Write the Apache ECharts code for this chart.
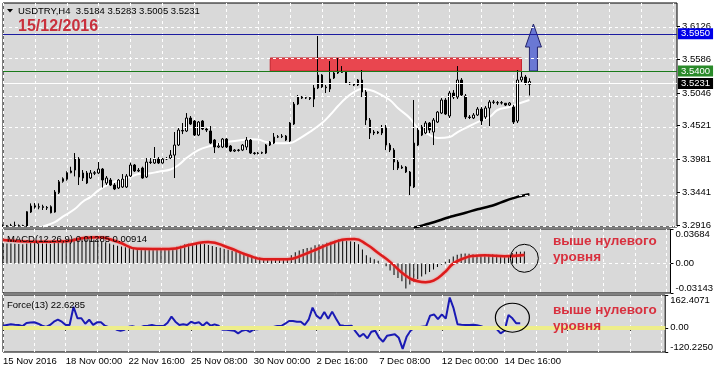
<!DOCTYPE html>
<html><head><meta charset="utf-8">
<script src="https://cdn.jsdelivr.net/npm/echarts@6/dist/echarts.min.js"></script>
<style>html,body{margin:0;padding:0;background:#fff}#c{width:716px;height:373px}</style>
</head><body><div id="c"></div><script>
const FONT = "'Liberation Sans', Arial, sans-serif";
// ---- x axis ----
const tickLabels = ['15 Nov 2016','18 Nov 00:00','22 Nov 16:00','25 Nov 08:00','30 Nov 00:00','2 Dec 16:00','7 Dec 08:00','12 Dec 00:00','14 Dec 16:00'];
const barsPerLabel = 16, barsPerGridLine = 8, slotCount = 170;
// ---- candles (H4 USDTRY) ----
const opens = [3.2905,3.2900,3.2905,3.2910,3.2906,3.2908,3.2895,3.3125,3.3225,3.3205,
3.3212,3.3200,3.3211,3.3125,3.3437,3.3620,3.3653,3.3760,3.3803,3.3980,
3.3674,3.3755,3.3674,3.3750,3.3755,3.3819,3.3593,3.3642,3.3561,3.3513,
3.3529,3.3529,3.3706,3.3884,3.3787,3.3835,3.3690,3.3932,3.3916,3.3980,
3.3916,3.3980,3.3996,3.4044,3.4206,3.4440,3.4432,3.4642,3.4593,3.4367,
3.4593,3.4464,3.4432,3.4287,3.4174,3.4174,3.4303,3.4190,3.4109,3.4125,
3.4125,3.4174,3.4287,3.4077,3.4070,3.4077,3.4077,3.4206,3.4238,3.4335,
3.4340,3.4351,3.4270,3.4545,3.4867,3.4980,3.4964,3.4970,3.5126,3.5126,
3.5335,3.5142,3.5109,3.5287,3.5368,3.5384,3.5384,3.5206,3.5190,3.5174,
3.5255,3.5061,3.4609,3.4400,3.4416,3.4400,3.4480,3.4206,3.4125,3.3932,
3.3835,3.3851,3.3771,3.3529,3.4206,3.4367,3.4400,3.4561,3.4416,3.4577,
3.4722,3.4932,3.4674,3.5045,3.4980,3.5255,3.4997,3.4658,3.4642,3.4690,
3.4787,3.4658,3.4803,3.4900,3.4890,3.4884,3.4880,3.4851,3.4819,3.4593,
3.5255,3.5303,3.5184];
const highs = [3.2925,3.2915,3.2935,3.2970,3.2925,3.2920,3.3140,3.3265,3.3270,3.3265,
3.3243,3.3222,3.3233,3.3480,3.3642,3.3685,3.3782,3.3856,3.4077,3.4012,
3.3803,3.3787,3.3803,3.3787,3.3932,3.3835,3.3706,3.3674,3.3593,3.3658,
3.3738,3.3738,3.3921,3.3900,3.3835,3.3857,3.3996,3.3996,3.4174,3.4012,
3.3996,3.4012,3.4125,3.4416,3.4480,3.4561,3.4722,3.4674,3.4609,3.4593,
3.4609,3.4480,3.4513,3.4303,3.4238,3.4319,3.4319,3.4206,3.4141,3.4141,
3.4222,3.4335,3.4303,3.4093,3.4093,3.4100,3.4222,3.4270,3.4400,3.4367,
3.4383,3.4367,3.4577,3.4900,3.5013,3.4997,3.5000,3.4990,3.5174,3.5964,
3.5350,3.5174,3.5561,3.5384,3.5609,3.5480,3.5400,3.5222,3.5206,3.5271,
3.5416,3.5093,3.4642,3.4448,3.4432,3.4529,3.4529,3.4238,3.4157,3.3964,
3.3880,3.3867,3.3787,3.4932,3.4480,3.4529,3.4593,3.4577,3.4642,3.4754,
3.4964,3.4964,3.5077,3.5093,3.5480,3.5287,3.5029,3.4690,3.4722,3.4819,
3.4819,3.4835,3.4932,3.4932,3.4916,3.4916,3.4884,3.4900,3.4851,3.5416,
3.5384,3.5335,3.5283];
const lows = [3.2890,3.2892,3.2895,3.2895,3.2895,3.2893,3.2885,3.3110,3.3180,3.3170,
3.3158,3.3158,3.3104,3.3114,3.3416,3.3598,3.3631,3.3750,3.3700,3.3561,
3.3626,3.3577,3.3658,3.3722,3.3740,3.3520,3.3561,3.3545,3.3480,3.3497,
3.3513,3.3513,3.3690,3.3771,3.3771,3.3663,3.3674,3.3900,3.3900,3.3900,
3.3905,3.3964,3.3980,3.3674,3.4190,3.4383,3.4416,3.4529,3.4351,3.4351,
3.4448,3.4416,3.4222,3.4077,3.4157,3.4157,3.4157,3.4093,3.4093,3.4100,
3.4109,3.4125,3.4061,3.4050,3.4055,3.4061,3.4061,3.4190,3.4222,3.4319,
3.4319,3.4270,3.4254,3.4529,3.4851,3.4948,3.4948,3.4932,3.4819,3.5109,
3.5126,3.5045,3.5061,3.5271,3.5352,3.5368,3.5190,3.5174,3.5158,3.5158,
3.4980,3.4529,3.4303,3.4367,3.4383,3.4367,3.4125,3.4093,3.3803,3.3803,
3.3820,3.3755,3.3400,3.3513,3.4190,3.4351,3.4383,3.4400,3.4206,3.4561,
3.4706,3.4690,3.4642,3.4948,3.4948,3.4980,3.4625,3.4625,3.4625,3.4674,
3.4529,3.4625,3.4513,3.4867,3.4851,3.4860,3.4835,3.4835,3.4545,3.4561,
3.5222,3.5174,3.5005];
const closes = [3.2900,3.2903,3.2910,3.2906,3.2908,3.2905,3.3131,3.3222,3.3205,3.3212,
3.3200,3.3190,3.3114,3.3448,3.3614,3.3663,3.3760,3.3787,3.3996,3.3690,
3.3755,3.3593,3.3755,3.3760,3.3819,3.3642,3.3674,3.3561,3.3497,3.3642,
3.3658,3.3706,3.3884,3.3787,3.3800,3.3674,3.3932,3.3925,3.3980,3.3916,
3.3980,3.3990,3.4044,3.4206,3.4448,3.4432,3.4642,3.4545,3.4367,3.4577,
3.4464,3.4448,3.4238,3.4174,3.4190,3.4303,3.4174,3.4109,3.4125,3.4120,
3.4206,3.4287,3.4077,3.4070,3.4077,3.4085,3.4206,3.4254,3.4335,3.4340,
3.4351,3.4287,3.4561,3.4867,3.4980,3.4964,3.4970,3.4955,3.4948,3.5335,
3.5142,3.5130,3.5271,3.5368,3.5384,3.5380,3.5206,3.5190,3.5174,3.5255,
3.5061,3.4609,3.4400,3.4416,3.4400,3.4480,3.4206,3.4125,3.3932,3.3835,
3.3851,3.3771,3.3545,3.4238,3.4448,3.4496,3.4561,3.4448,3.4609,3.4738,
3.4932,3.4706,3.5045,3.4980,3.5255,3.5013,3.4658,3.4650,3.4690,3.4787,
3.4593,3.4803,3.4900,3.4895,3.4884,3.4890,3.4851,3.4884,3.4577,3.5255,
3.5303,3.5206,3.5231];
// moving averages as [bar, price]
const maFast = [[10,3.2892],[13,3.2964],[15,3.3050],[18,3.3174],[20,3.3292],[22,3.3370],[24,3.3480],[27,3.3588],[29,3.3642],[32,3.3695],[34,3.3738],[37,3.3750],[39,3.3776],[42,3.3811],[44,3.3884],[46,3.3996],[49,3.4125],[52,3.4190],[56,3.4254],[59,3.4279],[62,3.4298],[64,3.4295],[66,3.4254],[69,3.4233],[72,3.4238],[74,3.4298],[77,3.4421],[80,3.4561],[82,3.4690],[84,3.4835],[86,3.4964],[88,3.5061],[90,3.5109],[92,3.5093],[94,3.5045],[97,3.4932],[99,3.4803],[102,3.4642],[104,3.4480],[107,3.4367],[109,3.4319],[112,3.4335],[114,3.4416],[117,3.4513],[119,3.4577],[122,3.4658],[124,3.4771],[127,3.4819],[129,3.4867],[132,3.4932]];
const maSlow = [[103,3.2870],[104,3.2888],[108,3.2960],[112,3.3045],[116,3.3114],[119,3.3170],[123,3.3235],[126,3.3308],[129,3.3370],[132,3.3411]];
const priceTicks = [3.2916,3.3441,3.3981,3.4521,3.5046,3.5586,3.6126];
const priceMin = 3.2884, priceMax = 3.6497;
const levelResistance = 3.5950, levelSupport = 3.5400, lastPrice = 3.5231;
const zoneBars = [67, 130], zoneLow = 3.5400, zoneHigh = 3.5610;
const arrowData = [[133, 3.5400, 3.5787, 3.6158]]; // bar, base, head base, tip
// ---- MACD ----
const macdMain = [0.0218,0.0215,0.0214,0.0212,0.0209,0.0207,0.0214,0.0219,0.0218,0.0217,
0.0215,0.0214,0.0208,0.0222,0.0236,0.0245,0.0253,0.0257,0.0269,0.0265,
0.0265,0.0261,0.0259,0.0257,0.0253,0.0239,0.0226,0.0214,0.0200,0.0190,
0.0183,0.0175,0.0173,0.0167,0.0161,0.0150,0.0151,0.0150,0.0151,0.0148,
0.0147,0.0146,0.0148,0.0161,0.0179,0.0190,0.0206,0.0212,0.0208,0.0211,
0.0211,0.0208,0.0198,0.0187,0.0176,0.0169,0.0159,0.0147,0.0136,0.0125,
0.0117,0.0111,0.0097,0.0084,0.0073,0.0064,0.0059,0.0054,0.0053,0.0050,
0.0047,0.0042,0.0056,0.0089,0.0120,0.0140,0.0155,0.0167,0.0171,0.0194,
0.0202,0.0206,0.0222,0.0233,0.0244,0.0257,0.0251,0.0244,0.0237,0.0230,
0.0206,0.0151,0.0089,0.0065,0.0046,0.0030,0.0003,-0.0028,-0.0075,-0.0122,
-0.0154,-0.0189,-0.0265,-0.0224,-0.0193,-0.0165,-0.0138,-0.0114,-0.0091,-0.0064,
-0.0036,-0.0013,0.0020,0.0045,0.0075,0.0095,0.0105,0.0108,0.0105,0.0100,
0.0095,0.0095,0.0098,0.0100,0.0098,0.0095,0.0092,0.0090,0.0078,0.0110,
0.0125,0.0125,0.01285];
const macdSignal = [[0,0.0251],[8,0.0233],[16,0.0239],[21,0.0276],[24,0.0280],[29,0.0233],[34,0.0159],[42,0.0155],[48,0.0206],[52,0.0230],[57,0.0171],[62,0.0089],[66,0.0047],[72,0.0045],[76,0.0093],[80,0.0163],[84,0.0230],[87,0.0259],[89,0.0261],[92,0.0206],[95,0.0112],[98,0.0018],[102,-0.0130],[105,-0.0189],[107,-0.0200],[109,-0.0183],[112,-0.0087],[114,-0.0001],[117,0.0061],[119,0.0081],[122,0.0089],[127,0.0079],[132,0.00914]];
const macdTicks = [-0.03143, 0, 0.03684];
const macdTickLabels = ['-0.03143', '0.00', '0.03684'];
const macdCircle = [[132, 0.0056]];
// ---- Force ----
const forceValues = [10,14,17,15,14,8,24,26,27,20,
10,4,14,30,40,30,14,14,104,47,
47,20,40,14,27,27,10,3,1,-9.5,
-14.5,-9.5,5,8,3,2,8.7,10,13.6,8.7,
8.7,8.7,25,55,30,13.6,16.9,13.6,30,22,
27,10,27,10,17,10,-9.5,-10,-12.8,-14.5,
-27.5,-15,-9.5,-20.7,-7.9,-7.9,-2,0,2,4,
8.7,8.7,20,33.5,33.5,30,30,13.6,40,100,
60,45,78,45,80,45,12,10,9,10,
-19.7,-44,-30,-52.5,-20,-14.5,-50,-69,-40,-36,
-32,-50,-105,-45,-14.5,0,2,5,8,60,
66,43,66,45,150,96,17,15,14,14,
15,12,8,0,-2,-4,-6,-27.5,-15,63,
47,22,22.6285];
const forceTicks = [-120.2250, 0, 162.4071];
const forceTickLabels = ['-120.2250', '0.00', '162.4071'];
const forceCircle = [[130, 49.8]];
// ---- texts ----
const headerText = 'USDTRY,H4  3.5184 3.5283 3.5005 3.5231';
const dateText = '15/12/2016';
const macdText = 'MACD(12,26,9) 0.01285 0.00914';
const forceText = 'Force(13) 22.6285';
const noteLines = ['выше нулевого', 'уровня'];

const slots = Array.from({length: slotCount}, (_, i) => i);
const candleData = opens.map((o, i) => [o, closes[i], lows[i], highs[i]]);
const PLOT_BG = '#d9d9d9';
const gridDash = {color: '#ffffff', width: 1, type: [3, 3]};

function xAxisFor(idx, bottom) {
  return {
    type: 'category', gridIndex: idx, data: slots, boundaryGap: false,
    axisLine: {show: false},
    axisTick: {show: bottom, interval: (i) => i % barsPerLabel === 0, length: 3, lineStyle: {color: '#000'}},
    axisLabel: {show: bottom, interval: (i) => i % barsPerLabel === 0,
      formatter: (v, i) => tickLabels[i / barsPerLabel] || '', align: 'left', color: '#000', fontSize: 9.5, fontFamily: FONT, margin: 4},
    splitLine: {show: true, interval: (i) => i % barsPerGridLine === 0, lineStyle: gridDash}
  };
}
function yAxisFor(idx, min, max, ticks, fmt, edge) {
  return {
    type: 'value', gridIndex: idx, position: 'right', min: min, max: max, scale: true,
    splitLine: {show: false}, axisLine: {show: false},
    axisTick: {show: true, customValues: ticks, length: 3, lineStyle: {color: '#000'}},
    axisLabel: Object.assign({customValues: ticks, formatter: fmt, color: '#000', fontSize: 9.5, fontFamily: FONT, margin: 5},
      edge ? {verticalAlignMinLabel: 'bottom', verticalAlignMaxLabel: 'top'} : {})
  };
}
const levelLabel = {show: true, position: 'end', distance: 1, fontSize: 9.5, fontFamily: FONT, color: '#fff', padding: [1, 3, 0, 3]};

const option = {
  animation: false,
  backgroundColor: '#ffffff',
  textStyle: {fontFamily: FONT},
  grid: [
    {left: 3, right: 39, top: 3, height: 224, show: true, backgroundColor: PLOT_BG, borderColor: '#000', borderWidth: 1},
    {left: 3, right: 39, top: 229, height: 64, show: true, backgroundColor: PLOT_BG, borderColor: '#000', borderWidth: 1},
    {left: 3, right: 39, top: 295, height: 57, show: true, backgroundColor: PLOT_BG, borderColor: '#000', borderWidth: 1}
  ],
  xAxis: [xAxisFor(0, false), xAxisFor(1, false), xAxisFor(2, true)],
  yAxis: [
    yAxisFor(0, priceMin, priceMax, priceTicks, (v) => v.toFixed(4), false),
    yAxisFor(1, macdTicks[0], macdTicks[2], macdTicks, (v) => macdTickLabels[macdTicks.indexOf(v)] || '', true),
    yAxisFor(2, forceTicks[0], forceTicks[2], forceTicks, (v) => forceTickLabels[forceTicks.indexOf(v)] || '', true)
  ],
  series: [
    {type: 'line', name: 'grid', xAxisIndex: 0, yAxisIndex: 0, data: [], z: 1, silent: true,
     markLine: {silent: true, symbol: ['none', 'none'], label: {show: false}, lineStyle: gridDash,
       data: priceTicks.map(v => ({yAxis: v}))}},
    {type: 'line', name: 'zone', xAxisIndex: 0, yAxisIndex: 0, data: [], z: 1, silent: true,
     markArea: {silent: true, itemStyle: {color: '#e9464f', borderColor: '#c4222c', borderWidth: 1},
       data: [[{xAxis: zoneBars[0], yAxis: zoneLow}, {xAxis: zoneBars[1], yAxis: zoneHigh}]]}},
    {type: 'line', name: 'levels', xAxisIndex: 0, yAxisIndex: 0, data: [], z: 1, silent: true,
     markLine: {silent: true, symbol: ['none', 'none'], label: levelLabel,
       data: [
         {yAxis: lastPrice, lineStyle: {color: '#ffffff', width: 1, type: 'solid'}, label: Object.assign({}, levelLabel, {formatter: lastPrice.toFixed(4), backgroundColor: '#000000'})},
         {yAxis: levelSupport, lineStyle: {color: '#1a7a1a', width: 1, type: 'solid'}, label: Object.assign({}, levelLabel, {formatter: levelSupport.toFixed(4), backgroundColor: '#2a8a2a'})},
         {yAxis: levelResistance, lineStyle: {color: '#1c1ca0', width: 1, type: 'solid'}, label: Object.assign({}, levelLabel, {formatter: levelResistance.toFixed(4), backgroundColor: '#0000e8'})}
       ]}},
    {type: 'line', name: 'MA fast', xAxisIndex: 0, yAxisIndex: 0, data: maFast, smooth: 0.4, showSymbol: false, z: 2,
     lineStyle: {color: '#ffffff', width: 2}},
    {type: 'line', name: 'MA slow', xAxisIndex: 0, yAxisIndex: 0, data: maSlow, smooth: 0.3, showSymbol: false, z: 2,
     lineStyle: {color: '#000000', width: 2.5}},
    {type: 'candlestick', name: 'USDTRY', xAxisIndex: 0, yAxisIndex: 0, data: candleData, barWidth: 2, z: 3,
     itemStyle: {color: '#ffffff', color0: '#000000', borderColor: '#000000', borderColor0: '#000000', borderWidth: 1}},
    {type: 'custom', name: 'arrow', xAxisIndex: 0, yAxisIndex: 0, data: arrowData, z: 4, clip: false, silent: true,
     renderItem: (params, api) => {
       const b = api.coord([api.value(0), api.value(1)]);
       const h = api.coord([api.value(0), api.value(2)]);
       const t = api.coord([api.value(0), api.value(3)]);
       const x = b[0], sw = 4, hw = 8;
       return {type: 'polygon', shape: {points: [[x - sw, b[1]], [x - sw, h[1]], [x - hw, h[1]], [x, t[1]], [x + hw, h[1]], [x + sw, h[1]], [x + sw, b[1]]]},
         style: {fill: '#6a78d4', stroke: '#22226a', lineWidth: 1}};
     }},
    // MACD
    {type: 'line', name: 'macdZero', xAxisIndex: 1, yAxisIndex: 1, data: [], z: 1, silent: true,
     markLine: {silent: true, symbol: ['none', 'none'], label: {show: false}, lineStyle: gridDash, data: [{yAxis: 0}]}},
    {type: 'bar', name: 'MACD', xAxisIndex: 1, yAxisIndex: 1, data: macdMain, barWidth: 1, z: 2,
     itemStyle: {color: '#000000'}},
    {type: 'line', name: 'Signal', xAxisIndex: 1, yAxisIndex: 1, data: macdSignal, smooth: 0.5, showSymbol: false, z: 3,
     lineStyle: {color: '#dc1c1c', width: 2.5, shadowColor: 'rgba(255,110,110,0.9)', shadowBlur: 2}},
    {type: 'custom', name: 'macdCircle', xAxisIndex: 1, yAxisIndex: 1, data: macdCircle, z: 5, clip: false, silent: true,
     renderItem: (params, api) => {
       const c = api.coord([api.value(0), api.value(1)]);
       return {type: 'circle', shape: {cx: c[0], cy: c[1], r: 14}, style: {fill: 'none', stroke: '#000', lineWidth: 1}};
     }},
    // Force
    {type: 'line', name: 'Force', xAxisIndex: 2, yAxisIndex: 2, data: forceValues, showSymbol: false, z: 2,
     lineStyle: {color: '#1a1ab4', width: 2}},
    {type: 'line', name: 'forceZero', xAxisIndex: 2, yAxisIndex: 2, data: [], z: 3, silent: true,
     markLine: {silent: true, symbol: ['none', 'none'], label: {show: false},
       lineStyle: {color: '#eeee8a', width: 4, type: 'solid'}, data: [{yAxis: 0}]}},
    {type: 'custom', name: 'forceCircle', xAxisIndex: 2, yAxisIndex: 2, data: forceCircle, z: 5, clip: false, silent: true,
     renderItem: (params, api) => {
       const c = api.coord([api.value(0), api.value(1)]);
       return {type: 'circle', x: c[0], y: c[1], scaleX: 17 / 14.5, shape: {cx: 0, cy: 0, r: 14.5},
         style: {fill: 'none', stroke: '#000', lineWidth: 1}, strokeNoScale: true};
     }}
  ],
  graphic: [
    {type: 'polygon', shape: {points: [[7, 9], [13, 9], [10, 12.5]]}, style: {fill: '#000'}, z: 10},
    {type: 'text', x: 18, y: 11, z: 10, style: {text: headerText, fill: '#000', font: '9.5px ' + FONT, verticalAlign: 'middle'}},
    {type: 'text', x: 18, y: 27, z: 10, style: {text: dateText, fill: '#c9303c', font: 'bold 16px ' + FONT, verticalAlign: 'middle'}},
    {type: 'text', x: 7, y: 239, z: 10, style: {text: macdText, fill: '#000', font: '9.5px ' + FONT, verticalAlign: 'middle'}},
    {type: 'text', x: 7, y: 305, z: 10, style: {text: forceText, fill: '#000', font: '9.5px ' + FONT, verticalAlign: 'middle'}},
    {type: 'text', x: 553, y: 241, z: 10, style: {text: noteLines[0], fill: '#d8303e', font: 'bold 13.5px ' + FONT, verticalAlign: 'middle'}},
    {type: 'text', x: 553, y: 257, z: 10, style: {text: noteLines[1], fill: '#d8303e', font: 'bold 13.5px ' + FONT, verticalAlign: 'middle'}},
    {type: 'text', x: 553, y: 310, z: 10, style: {text: noteLines[0], fill: '#d8303e', font: 'bold 13.5px ' + FONT, verticalAlign: 'middle'}},
    {type: 'text', x: 553, y: 326, z: 10, style: {text: noteLines[1], fill: '#d8303e', font: 'bold 13.5px ' + FONT, verticalAlign: 'middle'}}
  ]
};
const chart = echarts.init(document.getElementById('c'), null, {renderer: 'canvas'});
chart.setOption(option);
</script></body></html>
